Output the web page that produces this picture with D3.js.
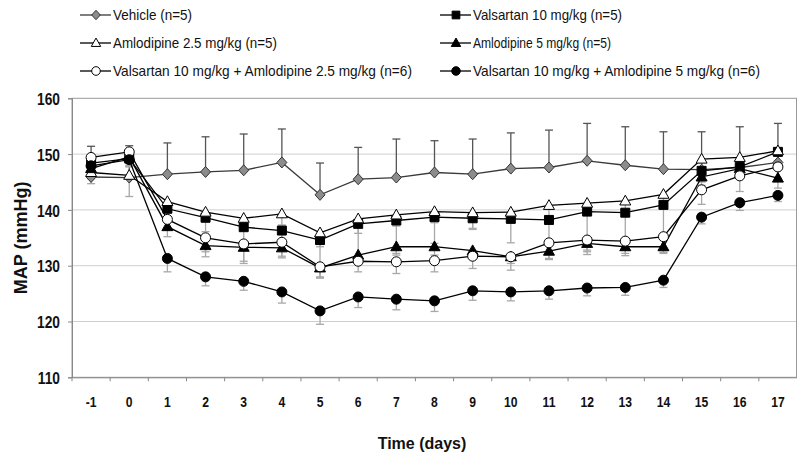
<!DOCTYPE html>
<html><head><meta charset="utf-8">
<script src="https://cdn.jsdelivr.net/npm/d3@7"></script>
<style>
body{margin:0;background:#fff;}
svg{display:block;}
.wide{font-family:"Liberation Sans",Arial,sans-serif;}
</style></head>
<body><svg id="c" width="797" height="462"></svg>
<script>
const days = ["-1","0","1","2","3","4","5","6","7","8","9","10","11","12","13","14","15","16","17"];
const yTicks = [110,120,130,140,150,160];

const vehicle   = [145.9,145.8,146.4,146.8,147.1,148.5,142.7,145.5,145.8,146.7,146.4,147.4,147.6,148.8,148.0,147.3,147.2,147.6,148.5];
const vehicleSD = [5.5,5.7,5.6,6.3,6.5,6.0,5.7,5.7,6.9,5.7,6.3,6.4,6.7,6.7,6.9,6.7,6.8,7.3,7.0];
const valsartan   = [148.4,149.2,140.2,138.6,136.9,136.3,134.6,137.5,138.1,138.7,138.5,138.4,138.2,139.7,139.5,140.9,147.0,147.7,150.4];
const valsartanSD = [1.8,1.5,2.0,2.5,2.5,2.6,6.6,6.0,5.9,4.7,2.0,4.3,3.6,6.9,5.0,5.4,2.0,1.5,2.5];
const aml25   = [146.7,146.2,141.5,139.6,138.5,139.3,135.9,138.4,139.1,139.7,139.5,139.6,140.8,141.2,141.6,142.8,149.1,149.4,150.6];
const aml25SD = [2.0,3.8,1.5,1.8,2.0,2.0,2.5,2.6,2.0,2.0,2.8,2.0,2.0,1.8,2.5,2.5,1.8,1.8,1.8];
const aml5   = [147.4,149.5,137.0,133.6,133.3,133.2,129.6,131.9,133.4,133.4,132.7,131.6,132.6,134.0,133.4,133.4,145.9,147.4,145.7];
const aml5SD = [1.8,1.5,1.8,2.0,2.5,1.8,1.8,1.5,1.5,1.5,1.5,1.2,1.5,1.5,1.2,1.2,1.5,1.5,1.8];
const combo25   = [149.4,150.4,138.3,135.0,133.9,134.2,129.8,130.8,130.7,130.9,131.7,131.6,134.1,134.6,134.4,135.2,143.6,146.1,147.7];
const combo25SD = [1.5,1.0,1.5,2.5,3.5,2.5,2.0,1.9,2.1,2.0,2.2,2.4,2.8,2.6,2.6,2.8,2.6,2.8,2.0];
const combo5   = [147.9,149.0,131.3,128.0,127.2,125.3,121.9,124.4,124.0,123.7,125.5,125.3,125.5,126.0,126.1,127.4,138.7,141.3,142.6];
const combo5SD = [1.5,1.2,2.4,1.6,1.6,2.0,2.4,1.9,1.9,1.9,1.7,1.6,1.5,1.4,1.4,1.3,1.2,1.4,1.1];

const seriesNames = [
  "Vehicle (n=5)",
  "Valsartan 10 mg/kg (n=5)",
  "Amlodipine 2.5 mg/kg (n=5)",
  "Amlodipine 5 mg/kg (n=5)",
  "Valsartan 10 mg/kg + Amlodipine 2.5 mg/kg  (n=6)",
  "Valsartan 10 mg/kg + Amlodipine 5 mg/kg  (n=6)"
];
const xTitle = "Time (days)";
const yTitle = "MAP (mmHg)";

// layout/style (not data)
const legendWidths = [79, 149, 164, 138, 299, 287];
const legPos = [[80,15],[440,15],[80,43],[440,43],[80,71],[440,71]];
const condense = 0.81;

const series = [
  {name:seriesNames[0], v:vehicle,   sd:vehicleSD,   shape:"diamond",  fill:"#8c8c8c", up:true},
  {name:seriesNames[1], v:valsartan, sd:valsartanSD, shape:"square",   fill:"#000",    up:false},
  {name:seriesNames[2], v:aml25,     sd:aml25SD,     shape:"triangle", fill:"#fff",    up:false},
  {name:seriesNames[3], v:aml5,      sd:aml5SD,      shape:"triangle", fill:"#000",    up:false},
  {name:seriesNames[4], v:combo25,   sd:combo25SD,   shape:"circle",   fill:"#fff",    up:false},
  {name:seriesNames[5], v:combo5,    sd:combo5SD,    shape:"circle",   fill:"#000",    up:false}
];

const M = {left:72, right:797, top:98.3, bottom:377.3};
const svg = d3.select("#c");
const x = d3.scaleBand().domain(days).range([M.left, M.right]).padding(0);
const y = d3.scaleLinear().domain([110,160]).range([M.bottom, M.top]);
const cx = d => x(d) + x.bandwidth()/2;

function shapePath(shape, s){
  if(shape==="diamond") return `M0,${-s*1.1}L${s},0L0,${s*1.1}L${-s},0Z`;
  if(shape==="square") return `M${-s*0.9},${-s*0.9}H${s*0.9}V${s*0.9}H${-s*0.9}Z`;
  if(shape==="triangle") return `M0,${-s*1.15}L${s*1.1},${s*0.8}L${-s*1.1},${s*0.8}Z`;
  return d3.arc()({innerRadius:0,outerRadius:s,startAngle:0,endAngle:2*Math.PI});
}
function squeeze(sel, f){
  sel.each(function(){
    const w = this.getComputedTextLength();
    d3.select(this).attr("textLength", w*f).attr("lengthAdjust","spacingAndGlyphs");
  });
}

// gridlines
svg.append("g").selectAll("line").data(yTicks.filter(t=>t>110 && t<160)).join("line")
  .attr("x1",M.left).attr("x2",M.right).attr("y1",d=>y(d)).attr("y2",d=>y(d))
  .attr("stroke","#cfcfcf").attr("stroke-width",1);
// frame
svg.append("rect").attr("x",M.left).attr("y",M.top).attr("width",M.right-M.left-0.5).attr("height",M.bottom-M.top)
  .attr("fill","none").attr("stroke","#9a9a9a").attr("stroke-width",1);

// y axis
const yAxis = svg.append("g").attr("transform",`translate(${M.left},0)`)
  .call(d3.axisLeft(y).tickValues(yTicks).tickSize(4).tickPadding(6));
yAxis.select(".domain").attr("stroke","#888");
yAxis.selectAll(".tick line").attr("stroke","#888");
yAxis.selectAll(".tick text").attr("class","wide").attr("font-size",17).attr("font-weight","bold").attr("fill","#111")
  .attr("dx",-2).attr("dy","0.36em");
squeeze(yAxis.selectAll(".tick text"), condense);

// x axis: ticks between categories
const xAxis = svg.append("g").attr("transform",`translate(0,${M.bottom})`)
  .call(d3.axisBottom(x).tickSize(0).tickPadding(19));
xAxis.select(".domain").attr("stroke","#888");
xAxis.selectAll(".tick text").attr("class","wide").attr("font-size",15).attr("font-weight","bold").attr("fill","#111");
squeeze(xAxis.selectAll(".tick text"), condense);
svg.append("g").selectAll("line").data(days).join("line")
  .attr("x1",d=>x(d)).attr("x2",d=>x(d)).attr("y1",M.bottom).attr("y2",M.bottom+4)
  .attr("stroke","#888");

// titles
svg.append("text").attr("class","wide").attr("x",422).attr("y",449).attr("text-anchor","middle")
  .attr("font-size",16).attr("font-weight","bold").attr("fill","#111").text(xTitle);
svg.append("text").attr("class","wide").attr("transform",`translate(27,${(M.top+M.bottom)/2}) rotate(-90)`)
  .attr("text-anchor","middle").attr("font-size",18).attr("font-weight","bold").attr("fill","#111").text(yTitle);

// error bars
const eb = svg.append("g");
series.forEach(s=>{
  const col = s.up ? "#555" : "#a8a8a8";
  const g = eb.append("g");
  const end = (i)=> y(s.up? s.v[i]+s.sd[i] : s.v[i]-s.sd[i]);
  g.selectAll("line.v").data(days).join("line").attr("class","v")
    .attr("x1",cx).attr("x2",cx)
    .attr("y1",(d,i)=>y(s.v[i])).attr("y2",(d,i)=>end(i))
    .attr("stroke",col).attr("stroke-width",1.3);
  g.selectAll("line.c").data(days).join("line").attr("class","c")
    .attr("x1",d=>cx(d)-4).attr("x2",d=>cx(d)+4)
    .attr("y1",(d,i)=>end(i)).attr("y2",(d,i)=>end(i))
    .attr("stroke",col).attr("stroke-width",1.3);
});

// lines and markers
const line = d3.line().x((d,i)=>cx(days[i])).y(d=>y(d));
series.forEach(s=>{
  svg.append("path").attr("d",line(s.v)).attr("fill","none")
    .attr("stroke", s.up ? "#3a3a3a" : "#000").attr("stroke-width",1.3);
});
series.forEach(s=>{
  svg.append("g").selectAll("path").data(days).join("path")
    .attr("transform",(d,i)=>`translate(${cx(d)},${y(s.v[i])})`)
    .attr("d",shapePath(s.shape,5))
    .attr("fill",s.fill).attr("stroke", s.up ? "#333" : "#000").attr("stroke-width",1);
});

// legend
const leg = svg.append("g");
series.forEach((s,i)=>{
  const [lx,ly] = legPos[i];
  const g = leg.append("g").attr("transform",`translate(${lx},${ly})`);
  g.append("line").attr("x1",0).attr("x2",31).attr("y1",0).attr("y2",0)
    .attr("stroke", s.up ? "#3a3a3a" : "#000").attr("stroke-width",1.3);
  g.append("path").attr("transform","translate(16,0)").attr("d",shapePath(s.shape,4.3))
    .attr("fill",s.fill).attr("stroke", s.up ? "#333" : "#000").attr("stroke-width",1);
  g.append("text").attr("class","wide").attr("x",33).attr("y",5).attr("font-size",14.5)
    .attr("fill","#111").attr("textLength",legendWidths[i]).attr("lengthAdjust","spacingAndGlyphs")
    .text(s.name);
});
</script></body></html>
